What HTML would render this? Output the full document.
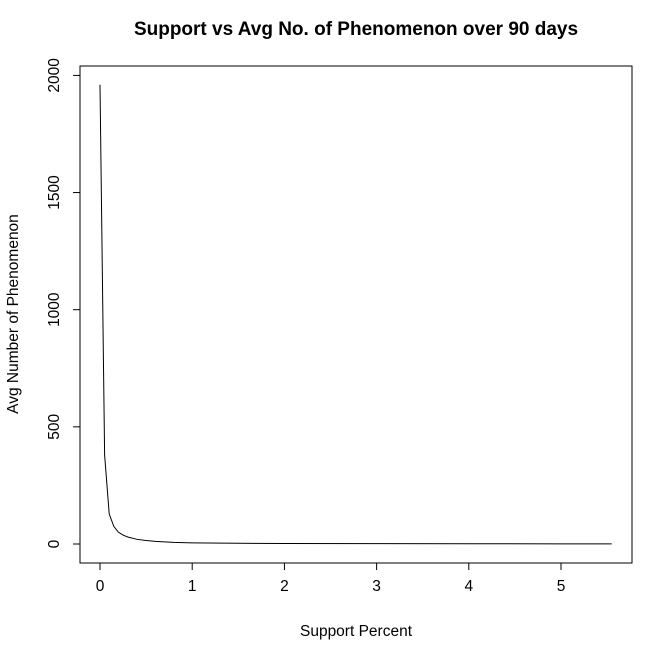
<!DOCTYPE html>
<html><head><meta charset="utf-8"><style>body{margin:0;background:#fff}svg{display:block;font-family:"Liberation Sans",sans-serif}</style></head>
<body>
<svg id="c" width="670" height="657">
<text x="356" y="35" text-anchor="middle" font-size="19" font-weight="bold">Support vs Avg No. of Phenomenon over 90 days</text>
<rect x="80" y="66" width="552" height="497" fill="none" stroke="#000"/>
<text x="356" y="636" text-anchor="middle" font-size="15.5">Support Percent</text>
<text transform="translate(18,314) rotate(-90)" text-anchor="middle" font-size="15.5">Avg Number of Phenomenon</text>
<g id="ax"></g>
<path id="line" fill="none" stroke="#000" stroke-width="1"/>
</svg>
<script>
const xs = [0,0.05,0.1,0.15,0.2,0.25,0.3,0.4,0.5,0.6,0.8,1,1.5,2,3,4,5,5.55];
const ys = [1960,380,128,75,50,38,30,20,15,11,7,5,3,2,1.5,1,0.8,0.7];
const xTicks = [0,1,2,3,4,5];
const yTicks = [0,500,1000,1500,2000];
const X = v => 100 + v*92.2;
const Y = v => 544 - v*0.2343;
const ns = 'http://www.w3.org/2000/svg';
const ax = document.getElementById('ax');
function mk(t,a){const e=document.createElementNS(ns,t);for(const k in a)e.setAttribute(k,a[k]);ax.appendChild(e);return e;}
const xl = mk('line',{x1:X(0),x2:X(5),y1:563,y2:563,stroke:'#000'});


xTicks.forEach(t=>{
  const l=mk('line',{x1:X(t),x2:X(t),y1:563,y2:570,stroke:'#000'});
  
  
  const s=mk('text',{x:X(t),y:591,'text-anchor':'middle','font-size':15.5});
  s.textContent=t;
  
  
});
const yl = mk('line',{x1:80,x2:80,y1:Y(0),y2:Y(2000),stroke:'#000'});


yTicks.forEach(t=>{
  const l=mk('line',{x1:73,x2:80,y1:Y(t),y2:Y(t),stroke:'#000'});
  
  
  const s=mk('text',{transform:`translate(59,${Y(t)}) rotate(-90)`,'text-anchor':'middle','font-size':15.5});
  s.textContent=t;
  
  
});
document.getElementById('line').setAttribute('d', xs.map((x,i)=>(i?'L':'M')+X(x)+','+Y(ys[i])).join(''));
</script>
</body></html>
